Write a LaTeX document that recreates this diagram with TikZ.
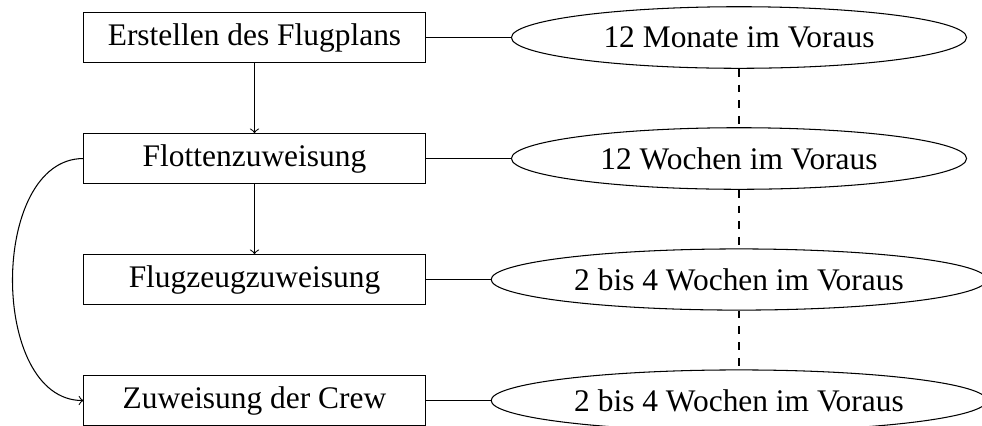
\documentclass[tikz,border=0pt]{standalone}
\usepackage{fontspec}
\setmainfont{Liberation Serif}
\usetikzlibrary{shapes.geometric,arrows}
\begin{document}
\begin{tikzpicture}[x=0.3817pt,y=-0.3817pt,
  every node/.style={font=\fontsize{12}{14}\selectfont},
  stepbox/.style={draw,rectangle,minimum width=130.2pt,minimum height=18.7pt,inner sep=4pt},
  timebox/.style={draw,ellipse,inner sep=4pt},
  widebox/.style={timebox,minimum width=173.7pt,minimum height=23.5pt},
  conn/.style={draw},
  flow/.style={draw,->},
  link/.style={draw,dashed}]
\useasboundingbox (0,0) rectangle (982,425);
\node[stepbox] (b1) at (254.5,37.5) {Erstellen des Flugplans};
\node[stepbox] (b2) at (254.5,158.5) {Flottenzuweisung};
\node[stepbox] (b3) at (254.5,279.5) {Flugzeugzuweisung};
\node[stepbox] (b4) at (254.5,400.5) {Zuweisung der Crew};
\node[widebox] (e1) at (739,37.5) {12 Monate im Voraus};
\node[widebox] (e2) at (739,158.5) {12 Wochen im Voraus};
\node[timebox] (e3) at (739,279.5) {2 bis 4 Wochen im Voraus};
\node[timebox] (e4) at (739,400.5) {2 bis 4 Wochen im Voraus};
\path[flow] (b1.south) -- (b2.north);
\path[flow] (b2.south) -- (b3.north);
\path[flow] (b2.west) to[out=180,in=180] (b4.west);
\path[conn] (b1.east) -- (e1.west);
\path[conn] (b2.east) -- (e2.west);
\path[conn] (b3.east) -- (e3.west);
\path[conn] (b4.east) -- (e4.west);
\path[link] (e1.south) -- (e2.north);
\path[link] (e2.south) -- (e3.north);
\path[link] (e3.south) -- (e4.north);
\end{tikzpicture}
\end{document}
